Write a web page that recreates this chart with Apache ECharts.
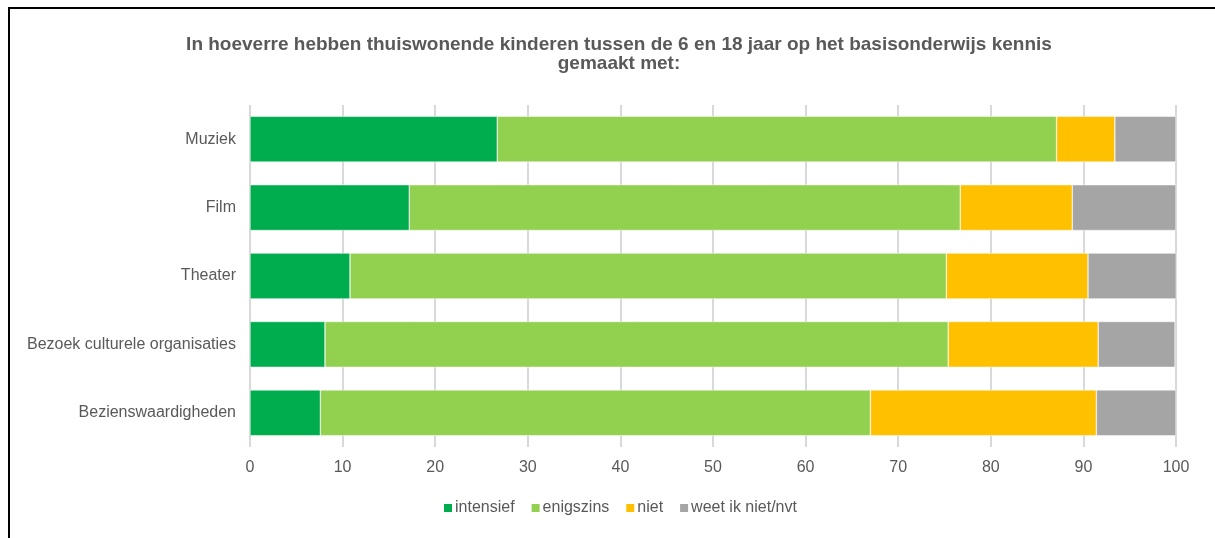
<!DOCTYPE html>
<html>
<head>
<meta charset="utf-8">
<script src="https://cdn.jsdelivr.net/npm/echarts@6/dist/echarts.min.js"></script>
<style>
	html, body { margin: 0; padding: 0; background: #fff; }
	#chart { width: 1215px; height: 538px; }
</style>
</head>
<body>
<div id="chart"></div>
<script>
const categories = ["Muziek", "Film", "Theater", "Bezoek culturele organisaties", "Bezienswaardigheden"];
const seriesNames = ["intensief", "enigszins", "niet", "weet ik niet/nvt"];
const intensief = [26.7, 17.2, 10.8, 8.1, 7.6];
const enigszins = [60.4, 59.5, 64.4, 67.3, 59.4];
const niet = [6.3, 12.1, 15.3, 16.2, 24.4];
const weetNiet = [6.6, 11.2, 9.6, 8.3, 8.6];
const colors = ["#00ad4e", "#92d050", "#ffc000", "#a5a5a5"];

const font = "'Liberation Sans', Arial, sans-serif";
const values = [intensief, enigszins, niet, weetNiet];

const chart = echarts.init(document.getElementById("chart"), null, { renderer: "canvas" });
chart.setOption({
	animation: false,
	graphic: [
		{
			type: "polyline",
			shape: { points: [[9, 538], [9, 8], [1215, 8]] },
			style: { stroke: "#000", lineWidth: 2, fill: null }
		}
	],
	title: {
		text: "In hoeverre hebben thuiswonende kinderen tussen de 6 en 18 jaar op het basisonderwijs kennis\ngemaakt met:",
		left: 614,
		textAlign: "center",
		top: 30,
		textStyle: {
			fontFamily: font,
			fontSize: 19,
			fontWeight: "bold",
			color: "#595959",
			lineHeight: 19
		}
	},
	legend: {
		bottom: 17,
		left: 437,
		itemWidth: 10,
		itemHeight: 10,
		itemGap: 15,
		icon: "rect",
		textStyle: { fontFamily: font, fontSize: 16, color: "#595959", padding: [0, 0, 0, -3] },
		data: seriesNames
	},
	grid: { left: 250, right: 39, top: 105, bottom: 91, containLabel: false },
	xAxis: {
		type: "value",
		min: 0,
		max: 100,
		interval: 10,
		axisLine: { show: false },
		axisTick: { show: false },
		splitLine: { lineStyle: { color: "#d9d9d9", width: 2 } },
		axisLabel: { fontFamily: font, fontSize: 16, color: "#595959", margin: 13 }
	},
	yAxis: {
		type: "category",
		inverse: true,
		data: categories,
		axisLine: { show: false },
		axisTick: { show: false },
		axisLabel: { fontFamily: font, fontSize: 16, color: "#595959", margin: 14 }
	},
	series: seriesNames.map((name, i) => ({
		name,
		type: "bar",
		stack: "total",
		barWidth: "67%",
		data: values[i],
		itemStyle: { color: colors[i], borderColor: "#fff", borderWidth: 0.5 }
	}))
});
</script>
</body>
</html>
